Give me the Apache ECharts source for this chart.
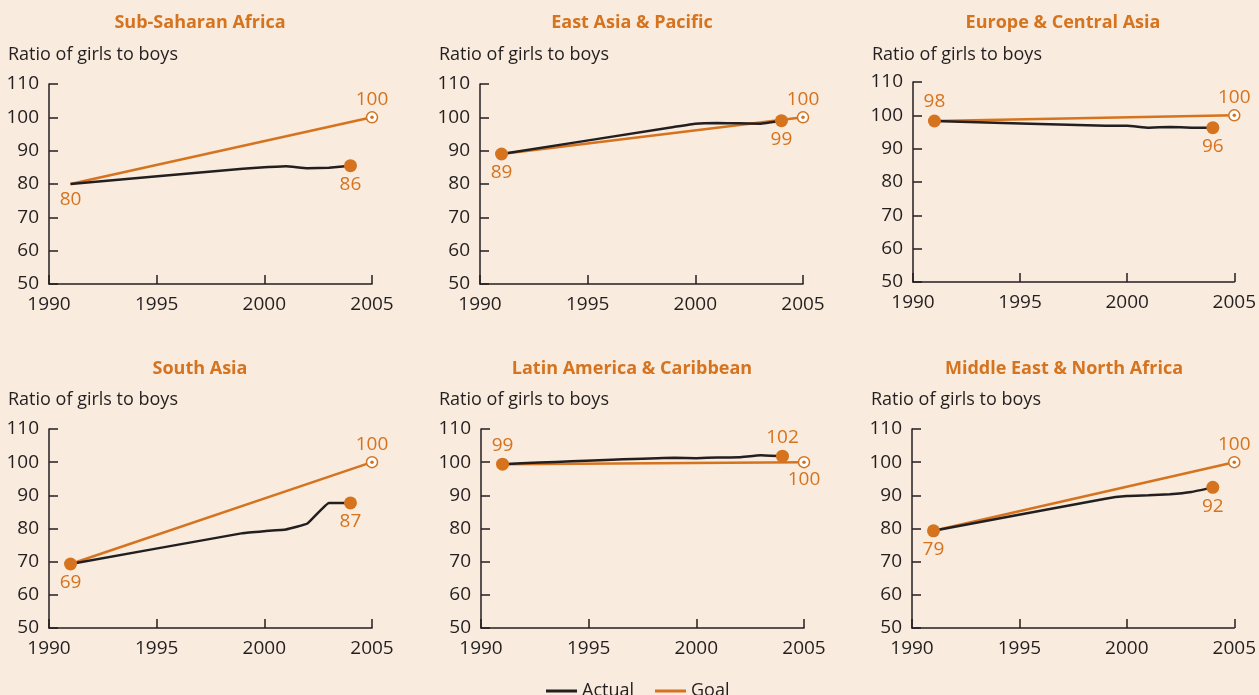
<!DOCTYPE html>
<html>
<head>
<meta charset="utf-8">
<title>Ratio of girls to boys</title>
<script src="https://cdn.jsdelivr.net/npm/echarts@6/dist/echarts.min.js"></script>
<style>
  html, body { margin: 0; height: 100%; background: #f9ebdd; }
  #chart { width: 1259px; height: 695px; }
</style>
</head>
<body>
<div id="chart"></div>
<script>
// data
var years = [1991, 1999, 2000, 2001, 2002, 2003, 2004];
var goalYears = [1991, 2005];
var regions = ['Sub-Saharan Africa', 'East Asia & Pacific', 'Europe & Central Asia',
               'South Asia', 'Latin America & Caribbean', 'Middle East & North Africa'];
var ssaActual = [80.0, 84.6, 85.0, 85.3, 84.7, 84.9, 85.5];
var eapActual = [89.0, 97.1, 98.1, 98.3, 98.2, 98.1, 99.0];
var ecaActual = [98.3, 96.9, 96.9, 96.3, 96.5, 96.3, 96.3];
var sasActual = [69.3, 78.6, 79.2, 79.7, 81.5, 87.7, 87.7];
var lacActual = [99.4, 101.3, 101.2, 101.4, 101.5, 102.1, 101.8];
var mnaActual = [79.3, 89.0, 89.8, 90.0, 90.3, 91.0, 92.4];
var goalTarget = 100;
var startLabels = [80, 89, 98, 69, 99, 79];
var endLabels = [86, 99, 96, 87, 102, 92];
var goalLabel = 100;

var actuals = [ssaActual, eapActual, ecaActual, sasActual, lacActual, mnaActual];

var ORANGE = '#d5731f';
var DARK = '#231f20';
var FONT = '"Open Sans", sans-serif';

// layout of the six panels
var grids = [
  {left: 49, top: 84}, {left: 480, top: 84}, {left: 913, top: 82},
  {left: 49, top: 429}, {left: 481, top: 429}, {left: 912, top: 429}
];
var titleX = [200, 632, 1063, 200, 632, 1064];
var titleY = [14, 14, 14, 360, 360, 360];
var unitX = [8, 439, 872, 8, 439, 871];
var unitY = [46, 46, 46, 391, 391, 391];
var startPos = ['bottom', 'bottom', 'top', 'bottom', 'top', 'bottom'];
var endPos = ['bottom', 'bottom', 'bottom', 'bottom', 'top', 'bottom'];
var goalPos = ['top', 'top', 'top', 'top', 'bottom', 'top'];

var option = {
  backgroundColor: '#f9ebdd',
  animation: false,
  textStyle: { fontFamily: FONT },
  title: [],
  grid: [],
  xAxis: [],
  yAxis: [],
  series: [],
  legend: {
    left: 541, top: 677,
    icon: 'rect', itemWidth: 31, itemHeight: 3, itemGap: 21,
    textStyle: { fontFamily: FONT, fontSize: 18, color: DARK },
    data: ['Actual', 'Goal']
  }
};

function lbl(pos, dist) {
  return { show: true, position: pos, distance: dist, color: ORANGE,
           fontFamily: FONT, fontSize: 19, lineHeight: 19, formatter: function (p) { return p.data.text; } };
}

for (var i = 0; i < 6; i++) {
  var g = grids[i];
  option.grid.push({ left: g.left, top: g.top, width: 323, height: i < 3 ? 200 : 199 });
  option.title.push({ text: regions[i], left: titleX[i], top: titleY[i], textAlign: 'center', padding: 0,
    textStyle: { color: ORANGE, fontFamily: FONT, fontWeight: 'bold', fontSize: 18 } });
  option.title.push({ text: 'Ratio of girls to boys', left: unitX[i], top: unitY[i], padding: 0,
    textStyle: { color: DARK, fontFamily: FONT, fontWeight: 'normal', fontSize: 18 } });
  option.xAxis.push({
    type: 'value', gridIndex: i, min: 1990, max: 2005, interval: 5,
    axisLine: { lineStyle: { color: DARK, width: 1.5 } },
    axisTick: { inside: true, length: 9, lineStyle: { color: DARK, width: 1.5 } },
    axisLabel: { color: DARK, fontSize: 19, fontFamily: FONT, margin: 11,
                 formatter: function (v) { return String(v); } },
    splitLine: { show: false }
  });
  option.yAxis.push({
    type: 'value', gridIndex: i, min: 50, max: 110, interval: 10,
    axisLine: { show: true, lineStyle: { color: DARK, width: 1.5 } },
    axisTick: { show: true, inside: true, length: 9, lineStyle: { color: DARK, width: 1.5 } },
    axisLabel: { color: DARK, fontSize: 19, fontFamily: FONT, margin: 10 },
    splitLine: { show: false }
  });

  var act = actuals[i];
  option.series.push({
    name: 'Goal', type: 'line', xAxisIndex: i, yAxisIndex: i, symbol: 'none', z: 2,
    lineStyle: { color: ORANGE, width: 2.5 }, itemStyle: { color: ORANGE },
    data: [[goalYears[0], act[0]], [goalYears[1], goalTarget]]
  });
  option.series.push({
    name: 'Actual', type: 'line', xAxisIndex: i, yAxisIndex: i, symbol: 'none', z: 3, smooth: 0.1,
    lineStyle: { color: DARK, width: 2.5 }, itemStyle: { color: DARK },
    data: years.map(function (y, k) { return [y, act[k]]; })
  });
  var noStart = (i === 0);
  option.series.push({
    name: 'marks', type: 'scatter', xAxisIndex: i, yAxisIndex: i, z: 5, symbol: 'circle',
    itemStyle: { color: ORANGE, opacity: 1 },
    data: [
      { value: [years[0], act[0]], text: String(startLabels[i]), symbolSize: noStart ? 0 : 13,
        label: lbl(startPos[i], noStart ? 6 : 3) },
      { value: [years[years.length - 1], act[act.length - 1]], text: String(endLabels[i]), symbolSize: 13,
        label: lbl(endPos[i], 3) }
    ]
  });
  option.series.push({
    name: 'target', type: 'scatter', xAxisIndex: i, yAxisIndex: i, z: 5, symbol: 'circle', symbolSize: 11,
    itemStyle: { color: '#ffffff', borderColor: ORANGE, borderWidth: 1.5, opacity: 1 },
    data: [{ value: [goalYears[1], goalTarget], text: String(goalLabel), label: lbl(goalPos[i], 2) }]
  });
  option.series.push({
    name: 'targetDot', type: 'scatter', xAxisIndex: i, yAxisIndex: i, z: 6, symbol: 'circle', symbolSize: 3.5,
    itemStyle: { color: ORANGE, opacity: 1 }, silent: true,
    data: [[goalYears[1], goalTarget]]
  });
}

var myChart = echarts.init(document.getElementById('chart'));
myChart.setOption(option);
</script>
</body>
</html>
